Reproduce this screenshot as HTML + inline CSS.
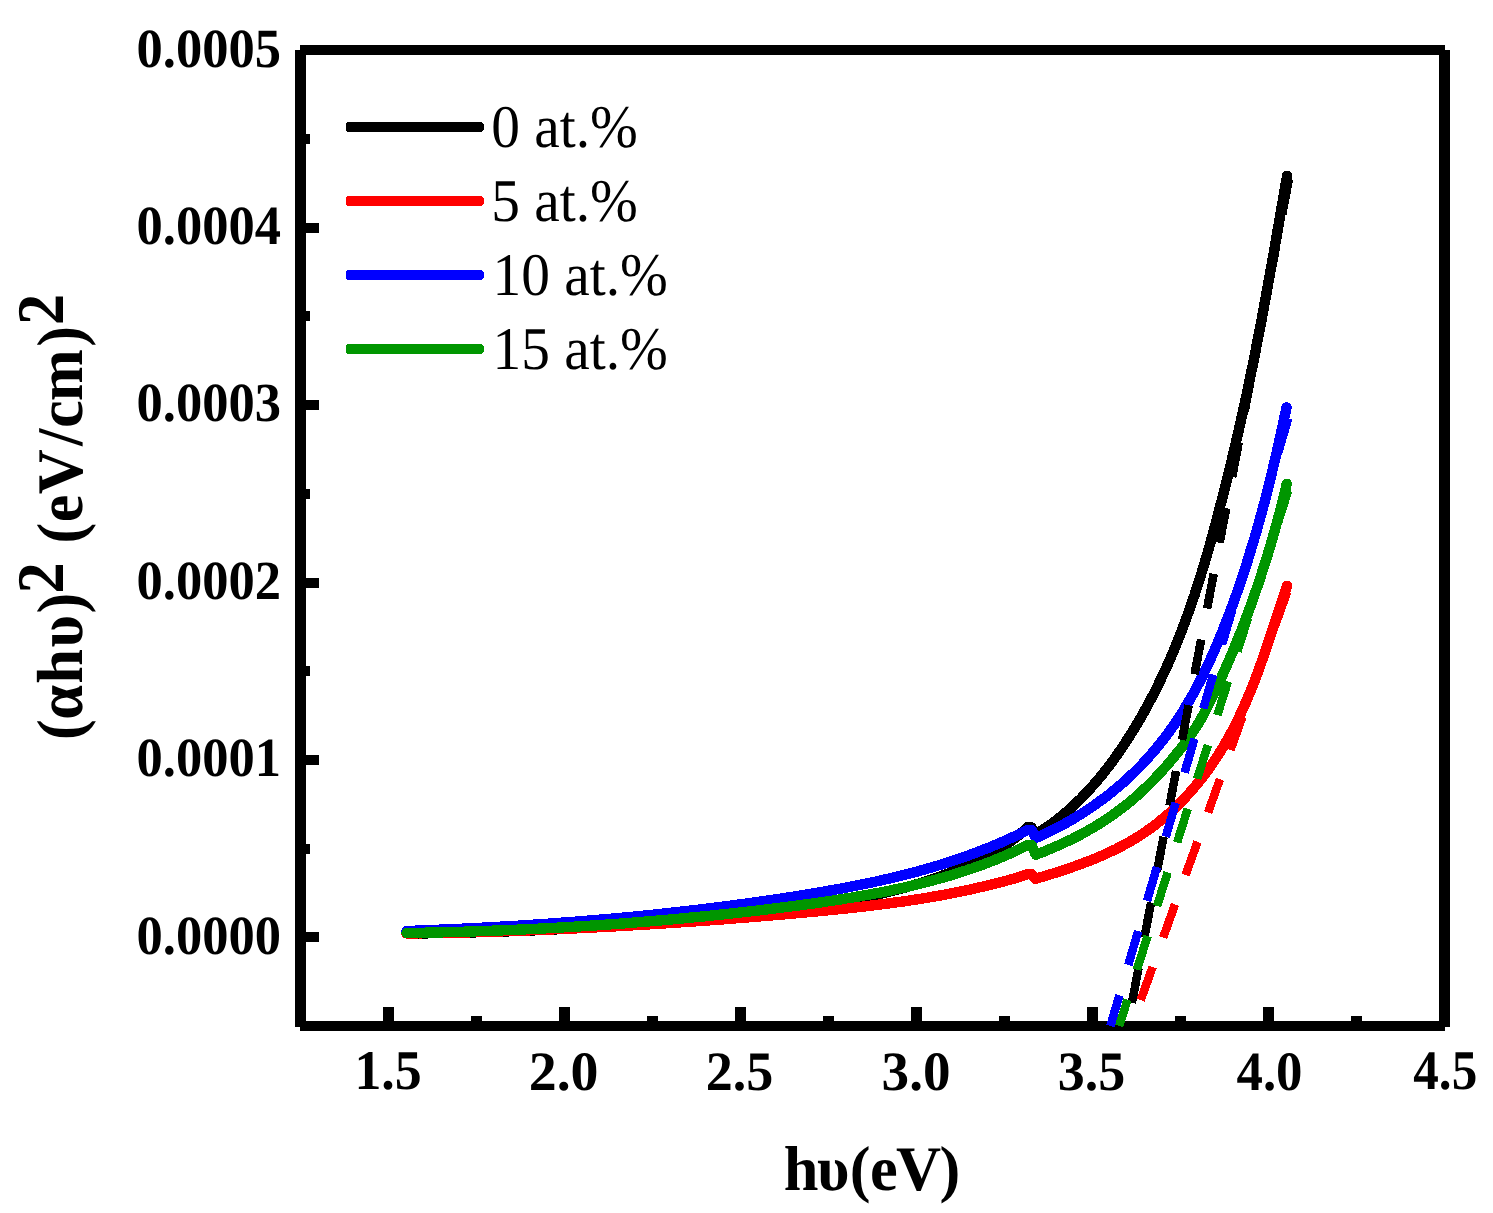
<!DOCTYPE html>
<html><head><meta charset="utf-8"><title>Tauc plot</title>
<style>
html,body{margin:0;padding:0;background:#fff;}
body{width:1493px;height:1213px;overflow:hidden;font-family:"Liberation Serif",serif;}
svg{display:block;position:absolute;left:0;top:0;}
</style></head><body>
<svg width="1493" height="1213" viewBox="0 0 1493 1213">
<rect width="1493" height="1213" fill="#fff"/>
<g fill="#000" shape-rendering="crispEdges">
<rect x="295" y="50" width="11" height="977"/>
<rect x="1439" y="50" width="11" height="977"/>
<rect x="300" y="45" width="1145" height="10"/>
<rect x="300" y="1021" width="1145" height="10"/>
<rect x="301" y="134" width="9" height="10"/>
<rect x="301" y="223" width="18" height="10"/>
<rect x="301" y="311" width="9" height="10"/>
<rect x="301" y="400" width="18" height="10"/>
<rect x="301" y="489" width="9" height="10"/>
<rect x="301" y="578" width="18" height="10"/>
<rect x="301" y="666" width="9" height="10"/>
<rect x="301" y="755" width="18" height="10"/>
<rect x="301" y="844" width="9" height="10"/>
<rect x="301" y="932" width="18" height="10"/>
<rect x="383" y="1007" width="11" height="19"/>
<rect x="471" y="1016" width="11" height="10"/>
<rect x="559" y="1007" width="11" height="19"/>
<rect x="647" y="1016" width="11" height="10"/>
<rect x="735" y="1007" width="11" height="19"/>
<rect x="823" y="1016" width="11" height="10"/>
<rect x="911" y="1007" width="11" height="19"/>
<rect x="999" y="1016" width="11" height="10"/>
<rect x="1087" y="1007" width="11" height="19"/>
<rect x="1175" y="1016" width="11" height="10"/>
<rect x="1263" y="1007" width="11" height="19"/>
<rect x="1351" y="1016" width="11" height="10"/>
</g>
<g fill="none" stroke-width="10.4" stroke-linecap="round" stroke-linejoin="round" shape-rendering="crispEdges">
<path d="M406.5,933.5 L409.5,933.5 L412.6,933.4 L415.6,933.4 L418.6,933.4 L421.7,933.3 L424.7,933.3 L427.7,933.3 L430.8,933.2 L433.8,933.2 L436.8,933.1 L439.8,933.1 L442.9,933.0 L445.9,933.0 L448.9,932.9 L451.9,932.8 L455.0,932.8 L458.0,932.7 L461.0,932.7 L464.0,932.6 L467.0,932.5 L470.1,932.4 L473.1,932.4 L476.1,932.3 L479.1,932.2 L482.1,932.1 L485.1,932.0 L488.2,932.0 L491.2,931.9 L494.2,931.8 L497.2,931.7 L500.2,931.6 L503.2,931.5 L506.2,931.4 L509.2,931.3 L512.2,931.2 L515.2,931.1 L518.3,931.0 L521.3,930.8 L524.3,930.7 L527.3,930.6 L530.3,930.5 L533.3,930.4 L536.3,930.2 L539.3,930.1 L542.3,930.0 L545.3,929.8 L548.3,929.7 L551.3,929.6 L554.3,929.4 L557.3,929.3 L560.3,929.1 L563.3,929.0 L566.3,928.8 L569.3,928.7 L572.3,928.5 L575.3,928.4 L578.3,928.2 L581.3,928.0 L584.3,927.9 L587.3,927.7 L590.3,927.5 L593.3,927.3 L596.3,927.1 L599.3,927.0 L602.3,926.8 L605.3,926.6 L608.3,926.4 L611.3,926.2 L614.3,926.0 L617.3,925.8 L620.3,925.6 L623.3,925.4 L626.3,925.2 L629.3,925.0 L632.3,924.7 L635.2,924.5 L638.2,924.3 L641.2,924.1 L644.2,923.8 L647.2,923.6 L650.2,923.4 L653.2,923.1 L656.2,922.9 L659.2,922.7 L662.2,922.4 L665.2,922.2 L668.2,921.9 L671.2,921.7 L674.2,921.4 L677.2,921.1 L680.2,920.9 L683.2,920.6 L686.2,920.3 L689.2,920.0 L692.2,919.8 L695.2,919.5 L698.2,919.2 L701.2,918.9 L704.2,918.6 L707.2,918.3 L710.2,918.0 L713.2,917.7 L716.2,917.4 L719.2,917.1 L722.2,916.8 L725.2,916.5 L728.2,916.2 L731.2,915.8 L734.2,915.5 L737.2,915.2 L740.2,914.8 L743.2,914.5 L746.2,914.2 L749.2,913.8 L752.2,913.5 L755.2,913.1 L758.2,912.8 L761.2,912.4 L764.2,912.1 L767.2,911.7 L770.2,911.3 L773.2,910.9 L776.2,910.6 L779.2,910.2 L782.2,909.8 L785.3,909.4 L788.3,909.0 L791.3,908.6 L794.3,908.2 L797.3,907.8 L800.3,907.4 L803.3,907.0 L806.3,906.6 L809.4,906.2 L812.4,905.7 L815.4,905.3 L818.4,904.9 L821.4,904.4 L824.4,904.0 L827.4,903.5 L830.4,903.0 L833.4,902.6 L836.4,902.1 L839.4,901.6 L842.4,901.1 L845.4,900.5 L848.4,900.0 L851.4,899.5 L854.4,898.9 L857.4,898.4 L860.3,897.8 L863.3,897.2 L866.3,896.6 L869.3,896.0 L872.2,895.4 L875.2,894.8 L878.1,894.2 L881.1,893.5 L884.0,892.8 L887.0,892.1 L889.9,891.4 L892.8,890.7 L895.8,890.0 L898.7,889.2 L901.6,888.5 L904.5,887.7 L907.4,886.9 L910.3,886.1 L913.2,885.3 L916.1,884.4 L919.0,883.6 L921.8,882.7 L924.7,881.8 L927.5,880.9 L930.4,879.9 L933.2,879.0 L936.1,878.0 L938.9,877.0 L941.7,876.0 L944.5,874.9 L947.3,873.9 L950.1,872.8 L952.9,871.7 L955.6,870.5 L958.4,869.4 L961.1,868.2 L963.9,867.0 L966.6,865.8 L969.3,864.5 L972.1,863.3 L974.8,862.0 L977.5,860.7 L980.1,859.3 L982.8,857.9 L985.5,856.5 L988.1,855.1 L990.7,853.7 L993.4,852.2 L996.0,850.7 L998.6,849.1 L1001.1,847.6 L1003.7,845.9 L1006.2,844.3 L1008.7,842.6 L1011.2,840.9 L1013.6,839.1 L1016.0,837.2 L1018.4,835.4 L1020.7,833.4 L1023.0,831.4 L1025.3,829.4 L1027.5,827.3 L1031.5,827.3 L1035.8,834.3 L1038.4,832.7 L1041.0,831.1 L1043.5,829.4 L1046.0,827.7 L1048.5,826.0 L1051.0,824.2 L1053.4,822.4 L1055.8,820.6 L1058.2,818.7 L1060.5,816.8 L1062.9,814.9 L1065.2,813.0 L1067.5,811.0 L1069.7,809.0 L1071.9,807.0 L1074.2,805.0 L1076.3,802.9 L1078.5,800.8 L1080.7,798.7 L1082.8,796.5 L1084.9,794.4 L1086.9,792.2 L1089.0,790.0 L1091.0,787.7 L1093.0,785.5 L1095.0,783.2 L1097.0,780.9 L1098.9,778.6 L1100.9,776.3 L1102.8,773.9 L1104.6,771.5 L1106.5,769.2 L1108.4,766.8 L1110.2,764.4 L1112.0,761.9 L1113.8,759.5 L1115.5,757.0 L1117.3,754.6 L1119.0,752.1 L1120.8,749.6 L1122.5,747.1 L1124.1,744.5 L1125.8,742.0 L1127.4,739.5 L1129.1,736.9 L1130.7,734.4 L1132.3,731.8 L1133.9,729.2 L1135.5,726.6 L1137.0,724.0 L1138.5,721.4 L1140.1,718.8 L1141.6,716.2 L1143.1,713.6 L1144.5,711.0 L1146.0,708.3 L1147.4,705.7 L1148.9,703.0 L1150.3,700.3 L1151.7,697.7 L1153.1,695.0 L1154.5,692.3 L1155.8,689.6 L1157.2,686.9 L1158.5,684.2 L1159.8,681.5 L1161.1,678.7 L1162.4,676.0 L1163.7,673.3 L1165.0,670.5 L1166.2,667.8 L1167.5,665.0 L1168.7,662.3 L1169.9,659.5 L1171.1,656.7 L1172.3,653.9 L1173.5,651.1 L1174.6,648.4 L1175.8,645.6 L1176.9,642.8 L1178.1,640.0 L1179.2,637.1 L1180.3,634.3 L1181.4,631.5 L1182.5,628.7 L1183.5,625.9 L1184.6,623.0 L1185.7,620.2 L1186.7,617.3 L1187.7,614.5 L1188.8,611.7 L1189.8,608.8 L1190.8,605.9 L1191.8,603.1 L1192.7,600.2 L1193.7,597.4 L1194.7,594.5 L1195.6,591.6 L1196.6,588.7 L1197.5,585.9 L1198.4,583.0 L1199.3,580.1 L1200.2,577.2 L1201.1,574.3 L1202.0,571.4 L1202.9,568.5 L1203.8,565.6 L1204.7,562.8 L1205.5,559.9 L1206.4,557.0 L1207.2,554.1 L1208.0,551.2 L1208.9,548.2 L1209.7,545.3 L1210.5,542.4 L1211.3,539.5 L1212.1,536.6 L1212.9,533.7 L1213.7,530.8 L1214.5,527.9 L1215.3,525.0 L1216.1,522.0 L1216.8,519.1 L1217.6,516.2 L1218.4,513.3 L1219.1,510.4 L1219.9,507.4 L1220.6,504.5 L1221.4,501.6 L1222.1,498.7 L1222.9,495.7 L1223.6,492.8 L1224.3,489.9 L1225.1,487.0 L1225.8,484.0 L1226.5,481.1 L1227.3,478.2 L1228.0,475.2 L1228.7,472.3 L1229.4,469.4 L1230.2,466.4 L1230.9,463.5 L1231.6,460.6 L1232.3,457.6 L1233.0,454.7 L1233.7,451.7 L1234.4,448.8 L1235.1,445.9 L1235.8,442.9 L1236.5,440.0 L1237.2,437.0 L1237.8,434.1 L1238.5,431.1 L1239.2,428.2 L1239.9,425.2 L1240.5,422.3 L1241.2,419.3 L1241.8,416.4 L1242.5,413.4 L1243.2,410.5 L1243.8,407.5 L1244.4,404.6 L1245.1,401.6 L1245.7,398.7 L1246.4,395.7 L1247.0,392.8 L1247.6,389.8 L1248.2,386.9 L1248.9,383.9 L1249.5,380.9 L1250.1,378.0 L1250.7,375.0 L1251.3,372.0 L1251.9,369.1 L1252.5,366.1 L1253.1,363.2 L1253.7,360.2 L1254.3,357.2 L1254.9,354.3 L1255.5,351.3 L1256.1,348.3 L1256.6,345.4 L1257.2,342.4 L1257.8,339.4 L1258.4,336.5 L1258.9,333.5 L1259.5,330.5 L1260.1,327.5 L1260.6,324.6 L1261.2,321.6 L1261.8,318.6 L1262.3,315.7 L1262.9,312.7 L1263.4,309.7 L1264.0,306.7 L1264.5,303.8 L1265.1,300.8 L1265.6,297.8 L1266.2,294.8 L1266.7,291.9 L1267.3,288.9 L1267.8,285.9 L1268.3,282.9 L1268.9,280.0 L1269.4,277.0 L1269.9,274.0 L1270.5,271.0 L1271.0,268.0 L1271.5,265.1 L1272.1,262.1 L1272.6,259.1 L1273.1,256.1 L1273.7,253.2 L1274.2,250.2 L1274.7,247.2 L1275.2,244.2 L1275.7,241.2 L1276.3,238.3 L1276.8,235.3 L1277.3,232.3 L1277.8,229.3 L1278.3,226.3 L1278.9,223.4 L1279.4,220.4 L1279.9,217.4 L1280.4,214.4 L1280.9,211.4 L1281.4,208.5 L1282.0,205.5 L1282.5,202.5 L1283.0,199.5 L1283.5,196.5 L1284.0,193.6 L1284.5,190.6 L1285.0,187.6 L1285.6,184.6 L1286.1,181.7 L1286.6,178.7 L1287.1,175.7" stroke="#000000"/>
<path d="M406.5,933.5 L409.5,933.5 L412.6,933.4 L415.6,933.4 L418.6,933.3 L421.6,933.3 L424.7,933.2 L427.7,933.2 L430.7,933.1 L433.8,933.1 L436.8,933.0 L439.8,933.0 L442.8,932.9 L445.9,932.8 L448.9,932.8 L451.9,932.7 L454.9,932.6 L458.0,932.6 L461.0,932.5 L464.0,932.4 L467.0,932.3 L470.1,932.3 L473.1,932.2 L476.1,932.1 L479.1,932.0 L482.2,931.9 L485.2,931.8 L488.2,931.7 L491.2,931.7 L494.2,931.6 L497.3,931.5 L500.3,931.4 L503.3,931.3 L506.3,931.2 L509.4,931.1 L512.4,931.0 L515.4,930.9 L518.4,930.8 L521.4,930.6 L524.5,930.5 L527.5,930.4 L530.5,930.3 L533.5,930.2 L536.5,930.1 L539.6,929.9 L542.6,929.8 L545.6,929.7 L548.6,929.6 L551.6,929.4 L554.6,929.3 L557.7,929.2 L560.7,929.1 L563.7,928.9 L566.7,928.8 L569.7,928.6 L572.8,928.5 L575.8,928.4 L578.8,928.2 L581.8,928.1 L584.8,927.9 L587.8,927.8 L590.9,927.6 L593.9,927.5 L596.9,927.3 L599.9,927.2 L602.9,927.0 L605.9,926.8 L609.0,926.7 L612.0,926.5 L615.0,926.4 L618.0,926.2 L621.0,926.0 L624.0,925.9 L627.1,925.7 L630.1,925.5 L633.1,925.3 L636.1,925.2 L639.1,925.0 L642.1,924.8 L645.1,924.6 L648.2,924.4 L651.2,924.2 L654.2,924.1 L657.2,923.9 L660.2,923.7 L663.2,923.5 L666.3,923.3 L669.3,923.1 L672.3,922.9 L675.3,922.7 L678.3,922.5 L681.3,922.3 L684.3,922.1 L687.4,921.9 L690.4,921.7 L693.4,921.5 L696.4,921.2 L699.4,921.0 L702.4,920.8 L705.5,920.6 L708.5,920.4 L711.5,920.2 L714.5,919.9 L717.5,919.7 L720.5,919.5 L723.5,919.3 L726.6,919.0 L729.6,918.8 L732.6,918.6 L735.6,918.3 L738.6,918.1 L741.6,917.9 L744.7,917.6 L747.7,917.4 L750.7,917.1 L753.7,916.9 L756.7,916.7 L759.7,916.4 L762.8,916.2 L765.8,915.9 L768.8,915.7 L771.8,915.4 L774.8,915.2 L777.8,914.9 L780.9,914.6 L783.9,914.4 L786.9,914.1 L789.9,913.9 L792.9,913.6 L795.9,913.3 L799.0,913.1 L802.0,912.8 L805.0,912.5 L808.0,912.2 L811.0,912.0 L814.1,911.7 L817.1,911.4 L820.1,911.1 L823.1,910.8 L826.1,910.5 L829.1,910.2 L832.2,909.9 L835.2,909.6 L838.2,909.3 L841.2,909.0 L844.2,908.7 L847.2,908.4 L850.2,908.1 L853.2,907.7 L856.3,907.4 L859.3,907.0 L862.3,906.7 L865.3,906.4 L868.3,906.0 L871.3,905.6 L874.3,905.3 L877.3,904.9 L880.3,904.5 L883.3,904.1 L886.3,903.7 L889.3,903.4 L892.3,902.9 L895.3,902.5 L898.3,902.1 L901.3,901.7 L904.3,901.3 L907.3,900.8 L910.3,900.4 L913.3,899.9 L916.2,899.5 L919.2,899.0 L922.2,898.5 L925.2,898.0 L928.2,897.5 L931.2,897.0 L934.1,896.5 L937.1,896.0 L940.1,895.5 L943.0,894.9 L946.0,894.4 L949.0,893.8 L951.9,893.2 L954.9,892.7 L957.9,892.1 L960.8,891.5 L963.8,890.9 L966.7,890.2 L969.7,889.6 L972.6,889.0 L975.6,888.3 L978.5,887.6 L981.5,887.0 L984.4,886.3 L987.3,885.6 L990.3,884.9 L993.2,884.1 L996.1,883.4 L999.0,882.7 L1002.0,881.9 L1004.9,881.1 L1007.8,880.3 L1010.7,879.5 L1013.6,878.7 L1016.5,877.8 L1019.4,876.9 L1022.3,876.0 L1025.1,875.1 L1028.0,874.1 L1031.5,874.1 L1035.5,878.8 L1038.4,878.0 L1041.2,877.1 L1044.1,876.3 L1047.0,875.4 L1049.8,874.5 L1052.7,873.6 L1055.6,872.7 L1058.5,871.8 L1061.4,870.8 L1064.3,869.9 L1067.2,868.9 L1070.1,867.9 L1072.9,866.9 L1075.8,865.9 L1078.7,864.9 L1081.6,863.8 L1084.4,862.7 L1087.3,861.6 L1090.2,860.5 L1093.0,859.4 L1095.8,858.2 L1098.7,857.0 L1101.5,855.8 L1104.3,854.6 L1107.1,853.3 L1109.8,852.0 L1112.6,850.7 L1115.4,849.4 L1118.1,848.0 L1120.8,846.6 L1123.5,845.2 L1126.2,843.7 L1128.8,842.2 L1131.5,840.7 L1134.1,839.2 L1136.7,837.6 L1139.2,836.0 L1141.8,834.3 L1144.3,832.7 L1146.8,830.9 L1149.2,829.2 L1151.7,827.4 L1154.1,825.6 L1156.5,823.8 L1158.9,821.9 L1161.2,820.0 L1163.5,818.1 L1165.8,816.1 L1168.1,814.2 L1170.4,812.2 L1172.6,810.1 L1174.8,808.0 L1177.0,806.0 L1179.1,803.8 L1181.2,801.7 L1183.4,799.5 L1185.4,797.3 L1187.5,795.1 L1189.5,792.9 L1191.5,790.6 L1193.5,788.3 L1195.5,786.0 L1197.4,783.7 L1199.3,781.3 L1201.2,779.0 L1203.0,776.6 L1204.9,774.2 L1206.7,771.7 L1208.5,769.3 L1210.2,766.8 L1212.0,764.3 L1213.7,761.8 L1215.4,759.3 L1217.0,756.7 L1218.7,754.2 L1220.3,751.6 L1221.9,749.0 L1223.5,746.4 L1225.0,743.8 L1226.5,741.2 L1228.0,738.6 L1229.5,735.9 L1230.9,733.2 L1232.4,730.6 L1233.8,727.9 L1235.1,725.2 L1236.5,722.4 L1237.8,719.7 L1239.1,717.0 L1240.4,714.2 L1241.7,711.5 L1243.0,708.7 L1244.2,706.0 L1245.4,703.2 L1246.7,700.4 L1247.8,697.6 L1249.0,694.8 L1250.2,692.0 L1251.3,689.2 L1252.4,686.3 L1253.6,683.5 L1254.7,680.7 L1255.8,677.8 L1256.8,675.0 L1257.9,672.1 L1258.9,669.2 L1260.0,666.4 L1261.0,663.5 L1262.0,660.6 L1263.1,657.8 L1264.1,654.9 L1265.1,652.0 L1266.0,649.1 L1267.0,646.2 L1268.0,643.4 L1269.0,640.5 L1269.9,637.6 L1270.9,634.7 L1271.9,631.8 L1272.8,628.9 L1273.8,626.0 L1274.7,623.1 L1275.6,620.2 L1276.6,617.4 L1277.5,614.5 L1278.5,611.6 L1279.4,608.7 L1280.4,605.8 L1281.3,603.0 L1282.2,600.1 L1283.2,597.2 L1284.1,594.4 L1285.1,591.5 L1286.0,588.6 L1287.0,585.8" stroke="#ff0000"/>
<path d="M406.5,931.0 L409.5,930.9 L412.5,930.8 L415.5,930.7 L418.6,930.6 L421.6,930.4 L424.6,930.3 L427.6,930.2 L430.6,930.1 L433.6,930.0 L436.6,929.8 L439.6,929.7 L442.6,929.6 L445.7,929.5 L448.7,929.3 L451.7,929.2 L454.7,929.1 L457.7,928.9 L460.7,928.8 L463.7,928.6 L466.7,928.5 L469.8,928.3 L472.8,928.2 L475.8,928.0 L478.8,927.9 L481.8,927.7 L484.8,927.6 L487.8,927.4 L490.8,927.2 L493.8,927.1 L496.8,926.9 L499.8,926.7 L502.9,926.6 L505.9,926.4 L508.9,926.2 L511.9,926.0 L514.9,925.9 L517.9,925.7 L520.9,925.5 L523.9,925.3 L526.9,925.1 L529.9,924.9 L532.9,924.7 L535.9,924.5 L539.0,924.3 L542.0,924.1 L545.0,923.9 L548.0,923.7 L551.0,923.5 L554.0,923.3 L557.0,923.0 L560.0,922.8 L563.0,922.6 L566.0,922.4 L569.0,922.2 L572.0,921.9 L575.0,921.7 L578.0,921.5 L581.0,921.2 L584.0,921.0 L587.0,920.7 L590.0,920.5 L593.0,920.2 L596.0,920.0 L599.1,919.7 L602.1,919.5 L605.1,919.2 L608.1,919.0 L611.1,918.7 L614.1,918.4 L617.1,918.2 L620.1,917.9 L623.1,917.6 L626.1,917.3 L629.1,917.0 L632.1,916.8 L635.1,916.5 L638.1,916.2 L641.1,915.9 L644.1,915.6 L647.1,915.3 L650.1,915.0 L653.1,914.7 L656.1,914.4 L659.1,914.0 L662.1,913.7 L665.1,913.4 L668.1,913.1 L671.1,912.8 L674.1,912.4 L677.1,912.1 L680.0,911.8 L683.0,911.4 L686.0,911.1 L689.0,910.7 L692.0,910.4 L695.0,910.0 L698.0,909.7 L701.0,909.3 L704.0,909.0 L707.0,908.6 L710.0,908.2 L713.0,907.9 L716.0,907.5 L719.0,907.1 L722.0,906.7 L725.0,906.4 L728.0,906.0 L731.0,905.6 L734.0,905.2 L736.9,904.8 L739.9,904.4 L742.9,904.0 L745.9,903.6 L748.9,903.2 L751.9,902.8 L754.9,902.3 L757.9,901.9 L760.9,901.5 L763.9,901.1 L766.8,900.6 L769.8,900.2 L772.8,899.8 L775.8,899.3 L778.8,898.9 L781.8,898.4 L784.8,898.0 L787.8,897.5 L790.7,897.0 L793.7,896.6 L796.7,896.1 L799.7,895.6 L802.7,895.2 L805.7,894.7 L808.7,894.2 L811.6,893.7 L814.6,893.2 L817.6,892.7 L820.6,892.2 L823.6,891.7 L826.5,891.2 L829.5,890.6 L832.5,890.1 L835.5,889.6 L838.4,889.0 L841.4,888.5 L844.4,887.9 L847.3,887.4 L850.3,886.8 L853.3,886.2 L856.2,885.6 L859.2,885.0 L862.2,884.4 L865.1,883.8 L868.1,883.2 L871.0,882.6 L874.0,882.0 L876.9,881.3 L879.9,880.7 L882.8,880.0 L885.7,879.3 L888.7,878.7 L891.6,878.0 L894.5,877.3 L897.5,876.6 L900.4,875.8 L903.3,875.1 L906.2,874.4 L909.1,873.6 L912.0,872.9 L915.0,872.1 L917.9,871.3 L920.8,870.5 L923.7,869.7 L926.5,868.9 L929.4,868.1 L932.3,867.2 L935.2,866.4 L938.1,865.5 L940.9,864.6 L943.8,863.7 L946.7,862.8 L949.5,861.9 L952.4,861.0 L955.2,860.0 L958.1,859.0 L960.9,858.1 L963.8,857.1 L966.6,856.1 L969.4,855.1 L972.2,854.0 L975.1,853.0 L977.9,851.9 L980.7,850.8 L983.5,849.7 L986.3,848.6 L989.1,847.5 L991.8,846.4 L994.6,845.2 L997.4,844.0 L1000.2,842.9 L1002.9,841.6 L1005.7,840.4 L1008.4,839.2 L1011.2,837.9 L1013.9,836.6 L1016.6,835.4 L1019.4,834.0 L1022.1,832.7 L1024.8,831.4 L1027.5,830.0 L1031.5,830.0 L1035.8,838.0 L1038.6,836.8 L1041.3,835.5 L1044.1,834.3 L1046.8,833.0 L1049.5,831.6 L1052.2,830.3 L1055.0,828.9 L1057.6,827.5 L1060.3,826.1 L1063.0,824.7 L1065.6,823.2 L1068.3,821.7 L1070.9,820.2 L1073.5,818.7 L1076.1,817.1 L1078.7,815.5 L1081.3,813.9 L1083.8,812.3 L1086.3,810.6 L1088.9,809.0 L1091.4,807.3 L1093.9,805.5 L1096.3,803.8 L1098.8,802.0 L1101.2,800.2 L1103.7,798.4 L1106.1,796.6 L1108.5,794.8 L1110.8,792.9 L1113.2,791.0 L1115.5,789.1 L1117.8,787.1 L1120.1,785.2 L1122.4,783.2 L1124.7,781.2 L1126.9,779.1 L1129.1,777.1 L1131.3,775.0 L1133.5,772.9 L1135.7,770.8 L1137.8,768.7 L1139.9,766.6 L1142.0,764.4 L1144.1,762.2 L1146.1,760.0 L1148.1,757.8 L1150.1,755.5 L1152.1,753.2 L1154.1,750.9 L1156.0,748.6 L1157.9,746.3 L1159.8,744.0 L1161.7,741.6 L1163.5,739.2 L1165.4,736.8 L1167.2,734.4 L1169.0,732.0 L1170.7,729.5 L1172.5,727.1 L1174.2,724.6 L1175.9,722.1 L1177.6,719.6 L1179.2,717.1 L1180.8,714.5 L1182.5,712.0 L1184.1,709.4 L1185.6,706.8 L1187.2,704.2 L1188.7,701.6 L1190.2,699.0 L1191.7,696.4 L1193.2,693.8 L1194.6,691.1 L1196.1,688.5 L1197.5,685.8 L1198.9,683.1 L1200.3,680.4 L1201.6,677.7 L1203.0,675.0 L1204.3,672.3 L1205.6,669.6 L1206.9,666.8 L1208.2,664.1 L1209.5,661.4 L1210.7,658.6 L1212.0,655.8 L1213.2,653.1 L1214.4,650.3 L1215.6,647.5 L1216.8,644.8 L1218.0,642.0 L1219.1,639.2 L1220.3,636.4 L1221.5,633.6 L1222.6,630.8 L1223.7,628.0 L1224.8,625.2 L1225.9,622.4 L1227.0,619.5 L1228.1,616.7 L1229.2,613.9 L1230.3,611.1 L1231.3,608.2 L1232.4,605.4 L1233.4,602.6 L1234.5,599.7 L1235.5,596.9 L1236.5,594.0 L1237.5,591.2 L1238.5,588.3 L1239.5,585.5 L1240.5,582.6 L1241.4,579.7 L1242.4,576.9 L1243.3,574.0 L1244.3,571.1 L1245.2,568.3 L1246.1,565.4 L1247.1,562.5 L1248.0,559.6 L1248.9,556.7 L1249.8,553.8 L1250.7,551.0 L1251.5,548.1 L1252.4,545.2 L1253.3,542.3 L1254.1,539.4 L1255.0,536.5 L1255.8,533.6 L1256.7,530.7 L1257.5,527.8 L1258.3,524.8 L1259.1,521.9 L1259.9,519.0 L1260.7,516.1 L1261.5,513.2 L1262.3,510.3 L1263.1,507.3 L1263.9,504.4 L1264.7,501.5 L1265.4,498.6 L1266.2,495.6 L1266.9,492.7 L1267.7,489.8 L1268.4,486.9 L1269.1,483.9 L1269.9,481.0 L1270.6,478.1 L1271.3,475.1 L1272.0,472.2 L1272.7,469.2 L1273.4,466.3 L1274.1,463.4 L1274.8,460.4 L1275.5,457.5 L1276.2,454.5 L1276.9,451.6 L1277.5,448.7 L1278.2,445.7 L1278.9,442.8 L1279.5,439.8 L1280.2,436.9 L1280.8,433.9 L1281.5,431.0 L1282.1,428.0 L1282.8,425.1 L1283.4,422.1 L1284.0,419.2 L1284.6,416.2 L1285.3,413.3 L1285.9,410.3 L1286.5,407.4" stroke="#0000ff"/>
<path d="M406.5,933.0 L409.5,933.0 L412.6,932.9 L415.6,932.8 L418.6,932.8 L421.6,932.7 L424.7,932.7 L427.7,932.6 L430.7,932.5 L433.7,932.5 L436.8,932.4 L439.8,932.3 L442.8,932.3 L445.8,932.2 L448.9,932.1 L451.9,932.0 L454.9,931.9 L457.9,931.9 L461.0,931.8 L464.0,931.7 L467.0,931.6 L470.0,931.5 L473.0,931.4 L476.1,931.3 L479.1,931.2 L482.1,931.1 L485.1,931.0 L488.1,930.9 L491.2,930.8 L494.2,930.6 L497.2,930.5 L500.2,930.4 L503.2,930.3 L506.2,930.2 L509.3,930.0 L512.3,929.9 L515.3,929.8 L518.3,929.6 L521.3,929.5 L524.3,929.4 L527.3,929.2 L530.4,929.1 L533.4,928.9 L536.4,928.8 L539.4,928.6 L542.4,928.5 L545.4,928.3 L548.4,928.2 L551.4,928.0 L554.5,927.8 L557.5,927.7 L560.5,927.5 L563.5,927.3 L566.5,927.2 L569.5,927.0 L572.5,926.8 L575.5,926.6 L578.5,926.4 L581.5,926.3 L584.6,926.1 L587.6,925.9 L590.6,925.7 L593.6,925.5 L596.6,925.3 L599.6,925.1 L602.6,924.9 L605.6,924.7 L608.6,924.5 L611.6,924.2 L614.6,924.0 L617.6,923.8 L620.6,923.6 L623.6,923.4 L626.7,923.1 L629.7,922.9 L632.7,922.7 L635.7,922.4 L638.7,922.2 L641.7,922.0 L644.7,921.7 L647.7,921.5 L650.7,921.2 L653.7,921.0 L656.7,920.7 L659.7,920.5 L662.7,920.2 L665.7,919.9 L668.7,919.7 L671.7,919.4 L674.7,919.1 L677.7,918.9 L680.7,918.6 L683.8,918.3 L686.8,918.0 L689.8,917.7 L692.8,917.4 L695.8,917.2 L698.8,916.9 L701.8,916.6 L704.8,916.3 L707.8,916.0 L710.8,915.7 L713.8,915.3 L716.8,915.0 L719.8,914.7 L722.8,914.4 L725.8,914.1 L728.8,913.8 L731.8,913.4 L734.8,913.1 L737.8,912.8 L740.8,912.4 L743.8,912.1 L746.8,911.8 L749.8,911.4 L752.9,911.1 L755.9,910.7 L758.9,910.4 L761.9,910.0 L764.9,909.6 L767.9,909.3 L770.9,908.9 L773.9,908.5 L776.9,908.2 L779.9,907.8 L782.9,907.4 L785.9,907.0 L788.9,906.7 L791.9,906.3 L794.9,905.9 L797.9,905.5 L800.9,905.1 L803.9,904.7 L806.9,904.3 L809.9,903.9 L813.0,903.5 L816.0,903.0 L819.0,902.6 L822.0,902.2 L825.0,901.7 L828.0,901.3 L831.0,900.9 L834.0,900.4 L837.0,899.9 L840.0,899.5 L843.0,899.0 L845.9,898.5 L848.9,898.0 L851.9,897.6 L854.9,897.1 L857.9,896.5 L860.9,896.0 L863.9,895.5 L866.8,895.0 L869.8,894.4 L872.8,893.9 L875.8,893.3 L878.8,892.8 L881.7,892.2 L884.7,891.6 L887.6,891.0 L890.6,890.4 L893.6,889.8 L896.5,889.1 L899.5,888.5 L902.4,887.9 L905.4,887.2 L908.3,886.5 L911.3,885.8 L914.2,885.1 L917.1,884.4 L920.0,883.7 L923.0,883.0 L925.9,882.2 L928.8,881.5 L931.7,880.7 L934.6,879.9 L937.5,879.1 L940.4,878.3 L943.3,877.5 L946.2,876.7 L949.1,875.8 L952.0,875.0 L954.9,874.1 L957.7,873.2 L960.6,872.3 L963.5,871.3 L966.3,870.4 L969.2,869.4 L972.0,868.5 L974.9,867.5 L977.7,866.5 L980.5,865.4 L983.4,864.4 L986.2,863.3 L989.0,862.3 L991.8,861.2 L994.6,860.1 L997.4,858.9 L1000.2,857.8 L1003.0,856.6 L1005.7,855.4 L1008.5,854.2 L1011.2,853.0 L1014.0,851.7 L1016.7,850.4 L1019.4,849.1 L1022.1,847.8 L1024.8,846.4 L1027.5,845.0 L1031.5,845.0 L1035.8,854.7 L1038.6,853.6 L1041.5,852.5 L1044.3,851.4 L1047.1,850.3 L1049.9,849.1 L1052.7,847.9 L1055.5,846.7 L1058.3,845.5 L1061.1,844.3 L1063.8,843.0 L1066.5,841.7 L1069.3,840.4 L1072.0,839.1 L1074.7,837.7 L1077.4,836.3 L1080.1,834.9 L1082.7,833.5 L1085.4,832.0 L1088.0,830.5 L1090.7,829.0 L1093.3,827.5 L1095.9,826.0 L1098.4,824.4 L1101.0,822.8 L1103.5,821.2 L1106.1,819.5 L1108.6,817.8 L1111.1,816.1 L1113.5,814.4 L1116.0,812.6 L1118.4,810.8 L1120.8,809.0 L1123.2,807.2 L1125.6,805.3 L1128.0,803.4 L1130.3,801.5 L1132.6,799.6 L1134.9,797.6 L1137.2,795.6 L1139.4,793.6 L1141.7,791.5 L1143.9,789.4 L1146.1,787.3 L1148.3,785.2 L1150.4,783.1 L1152.6,780.9 L1154.7,778.7 L1156.8,776.5 L1158.8,774.3 L1160.9,772.1 L1162.9,769.8 L1165.0,767.5 L1167.0,765.3 L1169.0,763.0 L1170.9,760.7 L1172.9,758.3 L1174.8,756.0 L1176.7,753.6 L1178.6,751.3 L1180.5,748.9 L1182.4,746.5 L1184.2,744.1 L1186.1,741.7 L1187.8,739.3 L1189.6,736.9 L1191.3,734.4 L1193.0,731.9 L1194.7,729.4 L1196.3,726.8 L1197.9,724.3 L1199.4,721.7 L1200.9,719.1 L1202.3,716.4 L1203.8,713.8 L1205.2,711.1 L1206.6,708.4 L1207.9,705.7 L1209.3,703.0 L1210.6,700.3 L1211.9,697.6 L1213.3,694.9 L1214.6,692.1 L1215.9,689.4 L1217.2,686.7 L1218.4,683.9 L1219.7,681.2 L1221.0,678.4 L1222.2,675.7 L1223.5,672.9 L1224.7,670.2 L1225.9,667.4 L1227.1,664.6 L1228.4,661.9 L1229.6,659.1 L1230.7,656.3 L1231.9,653.5 L1233.1,650.7 L1234.3,647.9 L1235.4,645.1 L1236.6,642.3 L1237.7,639.5 L1238.8,636.7 L1240.0,633.9 L1241.1,631.1 L1242.2,628.3 L1243.3,625.4 L1244.3,622.6 L1245.4,619.8 L1246.5,617.0 L1247.6,614.1 L1248.6,611.3 L1249.6,608.4 L1250.7,605.6 L1251.7,602.7 L1252.7,599.9 L1253.7,597.0 L1254.7,594.2 L1255.7,591.3 L1256.7,588.5 L1257.7,585.6 L1258.7,582.7 L1259.6,579.8 L1260.6,577.0 L1261.5,574.1 L1262.4,571.2 L1263.4,568.3 L1264.3,565.4 L1265.2,562.5 L1266.1,559.7 L1267.0,556.8 L1267.9,553.9 L1268.8,551.0 L1269.6,548.1 L1270.5,545.2 L1271.3,542.2 L1272.2,539.3 L1273.0,536.4 L1273.9,533.5 L1274.7,530.6 L1275.5,527.7 L1276.3,524.8 L1277.1,521.8 L1277.9,518.9 L1278.7,516.0 L1279.5,513.1 L1280.2,510.1 L1281.0,507.2 L1281.7,504.3 L1282.5,501.3 L1283.2,498.4 L1284.0,495.5 L1284.7,492.5 L1285.4,489.6 L1286.1,486.6 L1286.8,483.7" stroke="#009600"/>
</g>
<g fill="none" shape-rendering="crispEdges">
<line x1="1288.9" y1="179.4" x2="1127.5" y2="1026.0" stroke="#000000" stroke-width="8.5" stroke-dasharray="35.3 31.62"/>
<line x1="1287.3" y1="591.6" x2="1131.4" y2="1026.0" stroke="#ff0000" stroke-width="8.5" stroke-dasharray="35.3 31.16"/>
<line x1="1288.3" y1="418.2" x2="1110.4" y2="1026.0" stroke="#0000ff" stroke-width="8.5" stroke-dasharray="35.3 31.50"/>
<line x1="1288.2" y1="490.5" x2="1119.2" y2="1026.0" stroke="#009600" stroke-width="8.5" stroke-dasharray="35.3 31.44"/>
</g>
<g shape-rendering="crispEdges">
<path d="M348.5,122 H480.5 A3.6,5 0 0 1 480.5,132 H348.5 A2.6,5 0 0 1 348.5,122 Z" fill="#000000"/>
<path d="M348.5,196 H480.5 A3.6,5 0 0 1 480.5,206 H348.5 A2.6,5 0 0 1 348.5,196 Z" fill="#ff0000"/>
<path d="M348.5,270 H480.5 A3.6,5 0 0 1 480.5,280 H348.5 A2.6,5 0 0 1 348.5,270 Z" fill="#0000ff"/>
<path d="M348.5,344 H480.5 A3.6,5 0 0 1 480.5,354 H348.5 A2.6,5 0 0 1 348.5,344 Z" fill="#009600"/>
</g>
<g font-family="'Liberation Serif', serif" fill="#000" text-rendering="geometricPrecision">
<text id="yt0" transform="translate(136.58,66.60) scale(1.0101,1.0638)" font-size="52" font-weight="bold">0.0005</text>
<text id="yt1" transform="translate(136.58,244.02) scale(1.0101,1.0638)" font-size="52" font-weight="bold">0.0004</text>
<text id="yt2" transform="translate(136.58,421.44) scale(1.0101,1.0638)" font-size="52" font-weight="bold">0.0003</text>
<text id="yt3" transform="translate(136.58,598.86) scale(1.0101,1.0638)" font-size="52" font-weight="bold">0.0002</text>
<text id="yt4" transform="translate(136.58,776.28) scale(1.0101,1.0638)" font-size="52" font-weight="bold">0.0001</text>
<text id="yt5" transform="translate(136.58,953.70) scale(1.0101,1.0638)" font-size="52" font-weight="bold">0.0000</text>
<text id="xt0" transform="translate(354.39,1089.49) scale(1.0366,1.0771)" font-size="52" font-weight="bold">1.5</text>
<text id="xt1" transform="translate(528.68,1089.50) scale(1.0749,1.0695)" font-size="52" font-weight="bold">2.0</text>
<text id="xt2" transform="translate(705.66,1089.50) scale(1.0403,1.0695)" font-size="52" font-weight="bold">2.5</text>
<text id="xt3" transform="translate(881.58,1089.50) scale(1.0607,1.0695)" font-size="52" font-weight="bold">3.0</text>
<text id="xt4" transform="translate(1057.82,1089.50) scale(1.0377,1.0695)" font-size="52" font-weight="bold">3.5</text>
<text id="xt5" transform="translate(1236.44,1089.50) scale(1.0169,1.0695)" font-size="52" font-weight="bold">4.0</text>
<text id="xt6" transform="translate(1413.26,1089.49) scale(0.9847,1.0771)" font-size="52" font-weight="bold">4.5</text>
<text id="xtitle" x="753.58 785.53 817.08 836.64 861.66 903.40" transform="translate(0,1189.6) scale(1.04,1.06)" font-size="60" font-weight="bold">hυ(eV)</text>
<text id="ytA" x="-0.04 19.42 54.20 88.99 121.53" transform="translate(82.2,740.0) rotate(-90) scale(1.04,1.085)" font-size="60" font-weight="bold">(αhυ)</text>
<text id="ytS1" x="140.91" transform="translate(62.9,740.0) rotate(-90) scale(1.04,1.11)" font-size="60" font-weight="bold">2</text>
<text id="ytB" x="189.00 209.34 236.42 282.63 299.98 325.62 378.21" transform="translate(82.2,740.0) rotate(-90) scale(1.04,1.085)" font-size="60" font-weight="bold">(eV/cm)</text>
<text id="ytS2" x="398.94" transform="translate(62.9,740.0) rotate(-90) scale(1.04,1.11)" font-size="60" font-weight="bold">2</text>
<text id="lg0" transform="translate(491.22,146.85) scale(1.0071,1.0649)" font-size="57" font-weight="normal">0 at.%</text>
<text id="lg1" transform="translate(491.22,220.95) scale(1.0071,1.0649)" font-size="57" font-weight="normal">5 at.%</text>
<text id="lg2" transform="translate(492.59,295.05) scale(1.0071,1.0649)" font-size="57" font-weight="normal">10 at.%</text>
<text id="lg3" transform="translate(492.59,369.15) scale(1.0071,1.0649)" font-size="57" font-weight="normal">15 at.%</text>
</g>
</svg>
</body></html>
